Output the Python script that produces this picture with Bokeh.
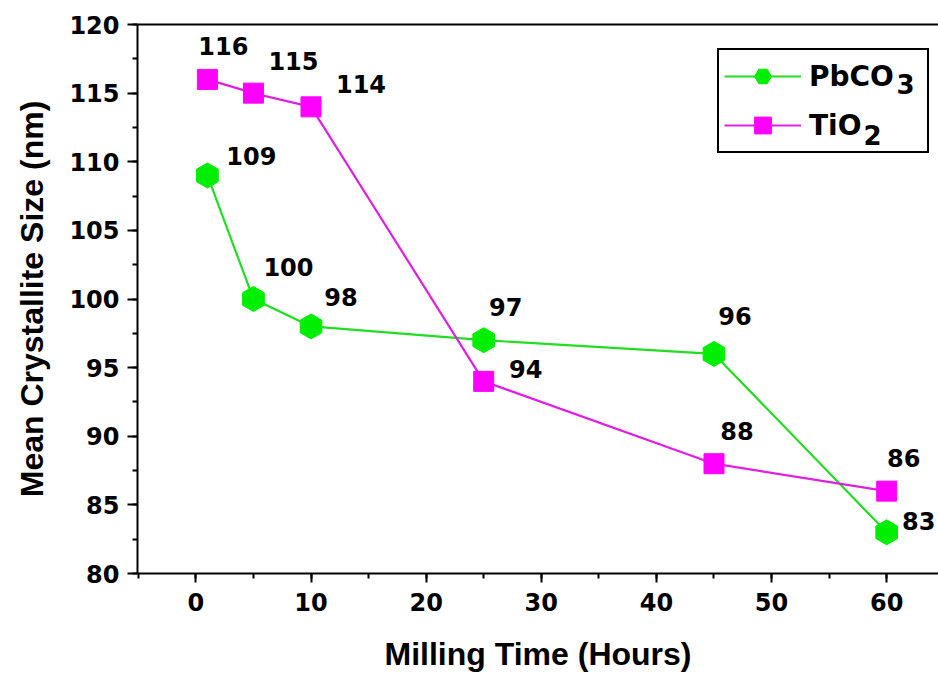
import numpy as np
from bokeh.plotting import figure
from bokeh.models import Range1d, SingleIntervalTicker, LinearAxis, Legend, LegendItem, Label
from bokeh.core.properties import value
from bokeh.embed import file_html
from bokeh.resources import INLINE

# Milling time (hours) and mean crystallite size (nm)
milling_hours = [1, 5, 10, 25, 45, 60]
pbco3_size = [109, 100, 98, 97, 96, 83]
tio2_size = [116, 115, 114, 94, 88, 86]

x_ticks_interval = 10
y_ticks_interval = 5

# pixel offsets of the value labels from their markers
pbco3_dx = [44, 35, 30, 22, 21, 32]
pbco3_dy = [-19, -32, -29, -33, -38, -11]
tio2_dx = [16, 40, 50, 42, 23, 17]
tio2_dy = [-33, -32, -23, -12, -33, -33]

GREEN_FILL = "#00ee00"
GREEN_LINE = "#22dd22"
MAGENTA_FILL = "#ff00ff"
MAGENTA_LINE = "#e020e0"

digit_font = "DejaVu Sans"
title_font = "Liberation Sans"

p = figure(width=938, height=677, output_backend="svg", toolbar_location=None,
           x_range=Range1d(-5.07, 64.5), y_range=Range1d(80, 120),
           min_border_left=137, min_border_right=0, min_border_top=24,
           min_border_bottom=104)
p.background_fill_color = "white"
p.border_fill_color = "white"
p.outline_line_color = None
p.grid.visible = False

# series lines and markers
g_line = p.line(milling_hours, pbco3_size, line_color=GREEN_LINE, line_width=2.2)
g_pts = p.scatter(milling_hours, pbco3_size, marker="hex", size=25, angle=np.pi / 6,
                  fill_color=GREEN_FILL, line_color=GREEN_FILL)
m_line = p.line(milling_hours, tio2_size, line_color=MAGENTA_LINE, line_width=2.2)
m_pts = p.scatter(milling_hours, tio2_size, marker="square", size=20,
                  fill_color=MAGENTA_FILL, line_color=MAGENTA_FILL)

# value labels
for ys, dx, dy in ((pbco3_size, pbco3_dx, pbco3_dy), (tio2_size, tio2_dx, tio2_dy)):
    p.text(x=milling_hours, y=ys, text=[str(v) for v in ys], x_offset=dx, y_offset=dy,
           text_font=value(digit_font), text_font_style="bold", text_font_size="24px",
           text_align="center", text_baseline="middle", text_color="black")

# axes
for ax in (p.xaxis[0], p.yaxis[0]):
    ax.axis_line_width = 2
    ax.axis_line_color = "black"
    ax.major_tick_line_width = 2
    ax.minor_tick_line_width = 2
    ax.major_tick_in = 0
    ax.minor_tick_in = 0
    ax.major_label_text_font = digit_font
    ax.major_label_text_font_style = "bold"
    ax.major_label_text_font_size = "24px"
    ax.major_label_text_color = "black"
    ax.axis_label_text_font = title_font
    ax.axis_label_text_font_style = "bold"
    ax.axis_label_text_font_size = "32px"
    ax.axis_label_text_color = "black"

p.xaxis.ticker = SingleIntervalTicker(interval=x_ticks_interval, num_minor_ticks=2)
p.yaxis.ticker = SingleIntervalTicker(interval=y_ticks_interval, num_minor_ticks=2)
p.xaxis.major_tick_out = 9
p.xaxis.minor_tick_out = 5
p.yaxis.major_tick_out = 10
p.yaxis.minor_tick_out = 5
p.xaxis.major_label_standoff = 10
p.yaxis.major_label_standoff = 8
p.xaxis.axis_label = "Milling Time (Hours)"
p.yaxis.axis_label = "Mean Crystallite Size (nm)"
p.xaxis.axis_label_standoff = 22
p.yaxis.axis_label_standoff = 16

# plain top border line
top = LinearAxis(axis_line_width=2, axis_line_color="black",
                 major_tick_line_color=None, minor_tick_line_color=None,
                 major_label_text_font_size="0px", major_label_standoff=0)
p.add_layout(top, "above")

# legend; chemical subscripts are set as separate lowered labels
legend = Legend(items=[LegendItem(label="PbCO", renderers=[g_line, g_pts]),
                       LegendItem(label="TiO", renderers=[m_line, m_pts])],
                location=(580, 420), padding=5, spacing=7, margin=0,
                glyph_width=77, glyph_height=42, label_standoff=8, label_width=113,
                label_text_font=digit_font, label_text_font_style="bold",
                label_text_font_size="28px", label_text_color="black",
                border_line_color="black", border_line_width=2, border_line_alpha=1,
                background_fill_alpha=0, level="annotation")
p.add_layout(legend)

sub_style = dict(x_units="screen", y_units="screen", text_font=digit_font,
                 text_font_style="bold", text_font_size="26px", text_color="black",
                 text_align="left", text_baseline="middle", level="overlay")
p.add_layout(Label(x=759, y=490, text="3", **sub_style))
p.add_layout(Label(x=726, y=439, text="2", **sub_style))

open("out.html", "w").write(file_html(p, INLINE))
